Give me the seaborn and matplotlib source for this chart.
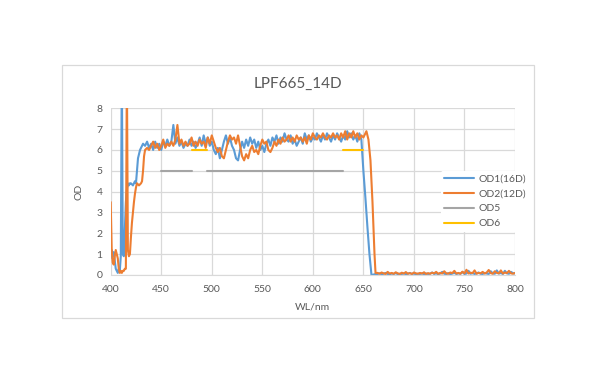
import numpy as np
import pandas as pd
import matplotlib
matplotlib.use("Agg")
import matplotlib.pyplot as plt
from matplotlib.patches import Rectangle
import seaborn as sns

# ---------------- data ----------------
title = "LPF665_14D"
x_ticks = [400, 450, 500, 550, 600, 650, 700, 750, 800]
y_ticks = [0, 1, 2, 3, 4, 5, 6, 7, 8]

# OD1(16D) - blue
od1_front_wl = [400, 401, 402, 403, 404, 405, 406, 407, 408, 409, 410, 411, 412, 413, 414,
                415, 416, 417, 418, 419, 420, 422, 424, 425, 426, 427, 428, 429, 430, 432]
od1_front = [0.8, 1.2, 0.9, 1.1, 0.7, 0.3, 0.2, 0.1, 0.3, 0.2, 0.9, 10, 1.0, 0.9, 2.2,
             3.5, 4.1, 4.4, 4.3, 4.4, 4.4, 4.3, 4.5, 4.4, 5.0, 5.6, 5.8, 6.0, 6.1, 6.3]
od1_plateau_wl = list(range(434, 649, 2))
od1_plateau = [6.2, 6.4, 6.1, 6.3, 6.0, 6.4, 6.1, 6.3, 6.0, 6.4,
               6.2, 6.5, 6.2, 6.4, 7.2, 6.3, 6.6, 6.2, 6.4, 6.1,
               6.3, 6.2, 6.5, 6.2, 6.4, 6.1, 6.3, 6.6, 6.2, 6.7,
               6.3, 6.6, 6.2, 6.4, 6.0, 5.8, 6.1, 5.6, 6.0, 6.4,
               6.7, 6.3, 6.6, 6.2, 6.0, 5.6, 5.5, 6.0, 6.4, 6.1,
               6.5, 6.2, 6.6, 6.3, 6.5, 6.1, 6.4, 6.0, 6.2, 5.9,
               6.3, 6.5, 6.2, 6.6, 6.4, 6.7, 6.3, 6.6, 6.4, 6.8,
               6.5, 6.4, 6.7, 6.3, 6.5, 6.2, 6.4, 6.6, 6.3, 6.8,
               6.5, 6.7, 6.4, 6.6, 6.5, 6.8, 6.6, 6.4, 6.7, 6.5,
               6.8, 6.6, 6.4, 6.7, 6.5, 6.8, 6.6, 6.4, 6.7, 6.5,
               6.9, 6.6, 6.8, 6.5, 6.7, 6.4, 6.8, 6.5]
od1_edge_wl = [650, 652, 654, 656, 658, 660, 662]
od1_edge = [5.0, 3.7, 2.3, 1.0, 0.0, 0.02, 0.05]
tail_wl = list(range(664, 801, 2))
od1_tail = [0.05, 0.08, 0.04, 0.06, 0.10, 0.05, 0.03, 0.07, 0.05, 0.09,
            0.04, 0.06, 0.05, 0.08, 0.04, 0.06, 0.10, 0.05, 0.07, 0.04,
            0.06, 0.05, 0.08, 0.04, 0.07, 0.05, 0.06, 0.12, 0.05, 0.08,
            0.04, 0.07, 0.15, 0.06, 0.05, 0.09, 0.04, 0.07, 0.10, 0.05,
            0.08, 0.06, 0.14, 0.05, 0.07, 0.20, 0.06, 0.09, 0.05, 0.08,
            0.12, 0.06, 0.05, 0.10, 0.07, 0.05, 0.18, 0.08, 0.06, 0.22,
            0.07, 0.10, 0.05, 0.20, 0.08, 0.06, 0.15, 0.09, 0.07]

# OD2(12D) - orange
od2_front_wl = [400, 401, 402, 403, 404, 405, 406, 407, 408, 409, 410, 411, 412, 413, 414, 415, 416,
                417, 418, 419, 420, 421, 422, 423, 424, 425, 426, 428, 430, 431, 432, 433, 434]
od2_front = [3.5, 1.2, 0.6, 0.5, 0.9, 1.2, 1.0, 0.8, 0.3, 0.1, 0.2, 0.1, 0.2, 0.2, 0.3, 0.3, 10,
             1.2, 0.9, 1.0, 1.8, 2.5, 3.0, 3.5, 3.9, 4.2, 4.4, 4.3, 4.4, 4.5, 5.0, 5.7, 6.0]
od2_plateau_wl = list(range(436, 653, 2))
od2_plateau = [6.1, 6.0, 6.2, 6.4, 6.1, 6.3, 6.0, 6.2, 6.5, 6.1,
               6.3, 6.2, 6.4, 6.2, 6.5, 7.2, 6.3, 6.5, 6.2, 6.4,
               6.2, 6.3, 6.6, 6.2, 6.4, 6.2, 6.5, 6.3, 6.4, 6.1,
               6.6, 6.3, 6.7, 6.4, 6.1, 5.9, 6.1, 5.7, 5.6, 6.0,
               6.4, 6.7, 6.5, 6.6, 6.3, 6.7, 6.2, 5.7, 5.5, 5.8,
               5.6, 6.0, 6.2, 5.9, 6.0, 5.8, 6.2, 6.5, 6.3, 6.4,
               6.0, 5.9, 6.1, 6.4, 6.2, 6.5, 6.3, 6.6, 6.4, 6.5,
               6.7, 6.4, 6.6, 6.4, 6.7, 6.5, 6.6, 6.4, 6.6, 6.3,
               6.7, 6.5, 6.8, 6.6, 6.5, 6.7, 6.6, 6.8, 6.6, 6.5,
               6.7, 6.6, 6.8, 6.6, 6.7, 6.5, 6.8, 6.6, 6.9, 6.5,
               6.8, 6.6, 6.9, 6.6, 6.8, 6.5, 6.7, 6.6, 6.8]
od2_edge_wl = [653, 655, 657, 659, 661, 662]
od2_edge = [6.9, 6.5, 5.5, 3.5, 1.0, 0.1]
od2_tail = [0.10, 0.06, 0.12, 0.08, 0.05, 0.15, 0.07, 0.10, 0.06, 0.13,
            0.08, 0.05, 0.11, 0.07, 0.14, 0.06, 0.09, 0.05, 0.12, 0.08,
            0.06, 0.10, 0.07, 0.13, 0.05, 0.09, 0.06, 0.11, 0.08, 0.15,
            0.06, 0.10, 0.07, 0.18, 0.08, 0.06, 0.12, 0.09, 0.20, 0.07,
            0.10, 0.06, 0.16, 0.08, 0.25, 0.07, 0.11, 0.09, 0.22, 0.06,
            0.10, 0.08, 0.15, 0.07, 0.12, 0.24, 0.09, 0.06, 0.18, 0.10,
            0.08, 0.22, 0.07, 0.12, 0.09, 0.20, 0.08, 0.06, 0.10]

# Spec lines: (start, end) wavelength ranges
od5_level = 5
od5_ranges = [(450, 480), (495, 630)]
od6_level = 6
od6_ranges = [(480, 495), (630, 650)]

series_names = ["OD1(16D)", "OD2(12D)", "OD5", "OD6"]
colors = ["#5B9BD5", "#ED7D31", "#A5A5A5", "#FFC000"]

# ---------------- build table ----------------
rows = []
wl1 = od1_front_wl + od1_plateau_wl + od1_edge_wl + tail_wl
v1 = od1_front + od1_plateau + od1_edge + od1_tail
wl2 = od2_front_wl + od2_plateau_wl + od2_edge_wl + tail_wl
v2 = od2_front + od2_plateau + od2_edge + od2_tail
assert len(wl1) == len(v1) and len(wl2) == len(v2)
for w, v in zip(wl1, v1):
    rows.append((w, v, series_names[0], "a"))
for w, v in zip(wl2, v2):
    rows.append((w, v, series_names[1], "b"))
for i, (a, b) in enumerate(od5_ranges):
    rows += [(a, od5_level, series_names[2], f"c{i}"), (b, od5_level, series_names[2], f"c{i}")]
for i, (a, b) in enumerate(od6_ranges):
    rows += [(a, od6_level, series_names[3], f"d{i}"), (b, od6_level, series_names[3], f"d{i}")]
df = pd.DataFrame(rows, columns=["wl", "od", "series", "seg"])

# ---------------- plot ----------------
sns.set_style("white")
plt.rcParams["font.family"] = ["Lato", "DejaVu Sans"]
txt = "#595959"
grid_c = "#D9D9D9"

fig = plt.figure(figsize=(6.0, 3.83), dpi=100)
ax = fig.add_axes([110.7 / 600, 1 - 275 / 383, (515 - 110.7) / 600, (275 - 108.3) / 383])

sns.lineplot(data=df, x="wl", y="od", hue="series", units="seg", estimator=None,
             sort=False, hue_order=series_names, palette=colors, linewidth=1.5, ax=ax)

ax.set_xlim(400, 800)
ax.set_ylim(0, 8)
ax.set_xticks(x_ticks)
ax.set_yticks(y_ticks)
ax.grid(True, color=grid_c, linewidth=0.9)
ax.set_axisbelow(True)
for s in ["top", "right", "left"]:
    ax.spines[s].set_visible(False)
ax.spines["bottom"].set_color(grid_c)
ax.tick_params(axis="both", length=0, labelsize=7.5, colors=txt)
ax.tick_params(axis="y", pad=6)
ax.tick_params(axis="x", pad=7)
ax.set_xlabel("WL/nm", fontsize=7.5, color=txt, labelpad=6)
ax.set_ylabel("OD", fontsize=7.5, color=txt, labelpad=9)

handles, labels = ax.get_legend_handles_labels()
ax.get_legend().remove()
leg = fig.legend(handles, labels, loc="upper left", bbox_to_anchor=(441 / 600, 1 - 171 / 383),
                 frameon=True, fontsize=7.5, handlelength=2.9, handletextpad=0.4,
                 labelspacing=0.55, borderpad=0.3, borderaxespad=0)
leg.get_frame().set_facecolor("white")
leg.get_frame().set_edgecolor("none")
leg.get_frame().set_alpha(1)
for t in leg.get_texts():
    t.set_color(txt)
for l in leg.get_lines():
    l.set_linewidth(1.5)

fig.text(298 / 600, 1 - 84 / 383, title, ha="center", va="center", fontsize=11, color=txt)
fig.patches.append(Rectangle((62 / 600, 1 - 318 / 383), (534 - 62) / 600, (318 - 65) / 383,
                             transform=fig.transFigure, fill=False, edgecolor="#D9D9D9",
                             linewidth=0.9, zorder=0))

fig.savefig("out.png", dpi=100, facecolor="white")
